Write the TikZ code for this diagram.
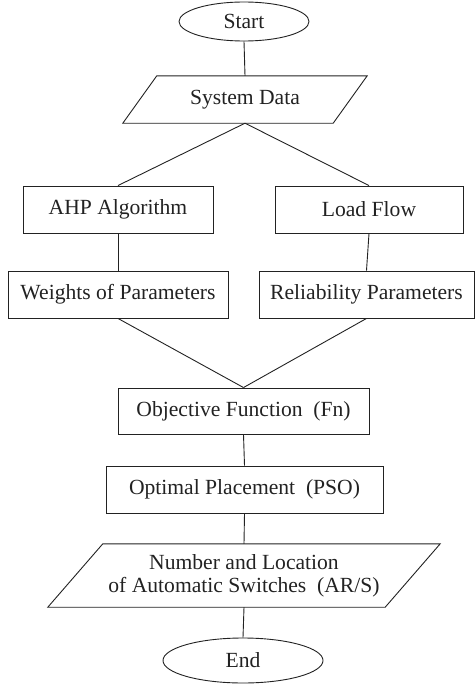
\documentclass[tikz,border=0pt]{standalone}
\usepackage{fontspec}
\setmainfont{Liberation Serif}
\usetikzlibrary{shapes.geometric,calc}
\definecolor{ink}{HTML}{222222}
\tikzset{
  base/.style={inner sep=0pt, text=ink, font=\rmfamily\fontsize{21.6}{25}\selectfont, align=center},
  proc/.style={base, draw=ink, line width=0.9pt, rectangle},
  term/.style={base, draw=ink, line width=0.9pt, ellipse},
  io/.style={base, rectangle},
  conn/.style={draw=ink, line width=0.9pt},
}
\begin{document}
\begin{tikzpicture}[x=1pt,y=-1pt]
\useasboundingbox (0,0) rectangle (475,685);
\node[term, minimum width=130pt, minimum height=39pt] (start) at (244,21.5) {Start};
\node[io, minimum width=210pt, minimum height=47pt] (sys) at (245,99.5) {System Data};
\draw[conn] ($(sys.north west)+(17,0)$) -- ($(sys.north east)+(17,0)$) -- ($(sys.south east)+(-17,0)$) -- ($(sys.south west)+(-17,0)$) -- cycle;
\node[proc, minimum width=190pt, minimum height=47pt] (ahp) at (118,209.5) {AHP Algorithm};
\node[proc, minimum width=188pt, minimum height=47pt] (lf) at (369,209.5) {Load Flow};
\node[proc, minimum width=220pt, minimum height=47pt] (wp) at (118,294.5) {Weights of Parameters};
\node[proc, minimum width=215pt, minimum height=47pt] (rp) at (366.5,294.5) {Reliability Parameters};
\node[proc, minimum width=251pt, minimum height=46pt] (obj) at (243.5,411) {Objective Function\ \ (Fn)};
\node[proc, minimum width=277pt, minimum height=47pt] (opt) at (244.5,489.5) {Optimal Placement\ \ (PSO)};
\node[io, minimum width=337pt, minimum height=63pt] (num) at (244,575.5) {Number and Location\\[-2pt]of Automatic Switches\ \ (AR/S)};
\draw[conn] ($(num.north west)+(27.5,0)$) -- ($(num.north east)+(27.5,0)$) -- ($(num.south east)+(-27.5,0)$) -- ($(num.south west)+(-27.5,0)$) -- cycle;
\node[term, minimum width=160pt, minimum height=45pt] (end) at (243,660.5) {End};
\draw[conn] (start.south) -- (sys.north);
\draw[conn] (sys.south) -- (ahp.north);
\draw[conn] (sys.south) -- (lf.north);
\draw[conn] (ahp.south) -- (wp.north);
\draw[conn] (lf.south) -- (rp.north);
\draw[conn] (wp.south) -- (obj.north);
\draw[conn] (rp.south) -- (obj.north);
\draw[conn] (obj.south) -- (opt.north);
\draw[conn] (opt.south) -- (num.north);
\draw[conn] (num.south) -- (end.north);
\end{tikzpicture}
\end{document}
